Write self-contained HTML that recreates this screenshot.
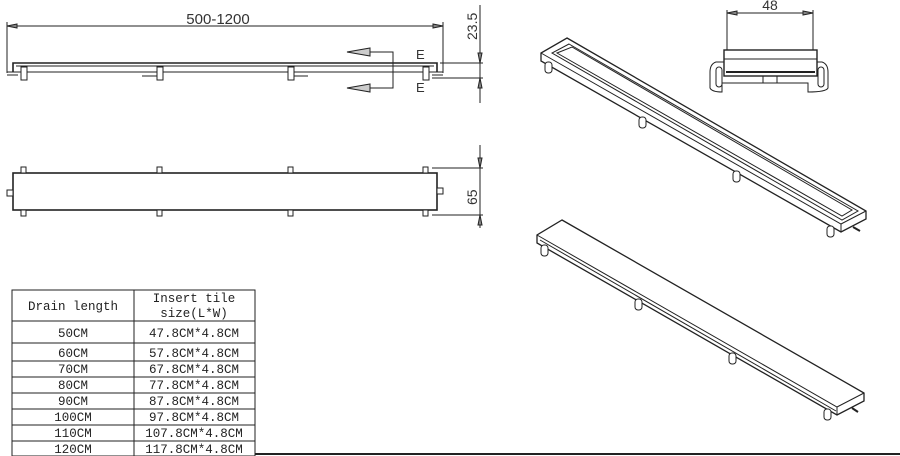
<!DOCTYPE html>
<html><head><meta charset="utf-8"><style>
body{margin:0;background:#fff;width:900px;height:456px;overflow:hidden}
svg{display:block}
text{font-family:"Liberation Sans",sans-serif;fill:#333}
.t{font-family:"Liberation Mono","Noto Serif CJK SC",monospace;font-size:12.5px;fill:#222}
</style></head><body>
<svg width="900" height="456" viewBox="0 0 900 456" fill="none" stroke="#222" stroke-width="1">
<line x1="7" y1="26" x2="443" y2="26"/>
<line x1="7" y1="22" x2="7" y2="73"/><line x1="443" y1="22" x2="443" y2="73"/>
<polygon points="7,26 17,24 17,28" fill="#888"/><polygon points="443,26 433,24 433,28" fill="#888"/>
<text x="218" y="24" font-size="15" text-anchor="middle" stroke="none">500-1200</text>
<path d="M13,72 V63 H437 V72" stroke-width="1.6"/>
<line x1="16" y1="66" x2="434" y2="66"/>
<line x1="7" y1="72" x2="443" y2="72"/><line x1="7" y1="75" x2="18" y2="75"/><line x1="432" y1="75" x2="443" y2="75"/>
<line x1="142" y1="76" x2="160" y2="76"/><line x1="290" y1="76" x2="308" y2="76"/>
<rect x="21" y="67" width="6" height="13" fill="#fff"/><rect x="157" y="67" width="6" height="13" fill="#fff"/>
<rect x="288" y="67" width="6" height="13" fill="#fff"/><rect x="423" y="67" width="6" height="13" fill="#fff"/>
<path d="M370,52 H393 V88 H370"/>
<polygon points="347,52 370,48 370,56" fill="#ccc"/><polygon points="347,88 370,84 370,92" fill="#ccc"/>
<text x="416" y="59" font-size="13" stroke="none">E</text><text x="416" y="92" font-size="13" stroke="none">E</text>
<line x1="480" y1="5" x2="480" y2="103"/>
<line x1="440" y1="63" x2="483" y2="63"/><line x1="432" y1="78" x2="483" y2="78"/>
<polygon points="480,63 478,53 482,53" fill="#888"/><polygon points="480,78 478,88 482,88" fill="#888"/>
<text transform="translate(477,40) rotate(-90)" font-size="14" stroke="none">23.5</text>
<rect x="13" y="173" width="424" height="37" stroke-width="1.6"/>
<g fill="#fff">
<rect x="21" y="167" width="5" height="6"/><rect x="157" y="167" width="5" height="6"/><rect x="288" y="167" width="5" height="6"/><rect x="423" y="167" width="5" height="6"/>
<rect x="21" y="210" width="5" height="6"/><rect x="157" y="210" width="5" height="6"/><rect x="288" y="210" width="5" height="6"/><rect x="423" y="210" width="5" height="6"/>
<rect x="7" y="190" width="6" height="6"/><rect x="437" y="188" width="6" height="6"/>
</g>
<line x1="480" y1="145" x2="480" y2="228"/>
<line x1="432" y1="168" x2="483" y2="168"/><line x1="432" y1="215" x2="483" y2="215"/>
<polygon points="480,168 478,158 482,158" fill="#888"/><polygon points="480,215 478,225 482,225" fill="#888"/>
<text transform="translate(477,205) rotate(-90)" font-size="14" stroke="none">65</text>
<rect x="12" y="290" width="243" height="166"/>
<line x1="134" y1="290" x2="134" y2="456"/>
<line x1="12" y1="321" x2="255" y2="321"/>
<line x1="12" y1="343" x2="255" y2="343"/><line x1="12" y1="361" x2="255" y2="361"/>
<line x1="12" y1="377" x2="255" y2="377"/><line x1="12" y1="393" x2="255" y2="393"/>
<line x1="12" y1="409" x2="255" y2="409"/><line x1="12" y1="425" x2="255" y2="425"/>
<line x1="12" y1="441" x2="255" y2="441"/>
<g stroke="none" text-anchor="middle">
<text class="t" x="73" y="310">Drain length</text>
<text class="t" x="194" y="302">Insert tile</text><text class="t" x="194" y="317">size(L*W)</text>
<text class="t" x="73" y="337">50CM</text><text class="t" x="194" y="337">47.8CM*4.8CM</text>
<text class="t" x="73" y="357">60CM</text><text class="t" x="194" y="357">57.8CM*4.8CM</text>
<text class="t" x="73" y="373">70CM</text><text class="t" x="194" y="373">67.8CM*4.8CM</text>
<text class="t" x="73" y="389">80CM</text><text class="t" x="194" y="389">77.8CM*4.8CM</text>
<text class="t" x="73" y="405">90CM</text><text class="t" x="194" y="405">87.8CM*4.8CM</text>
<text class="t" x="73" y="421">100CM</text><text class="t" x="194" y="421">97.8CM*4.8CM</text>
<text class="t" x="73" y="437">110CM</text><text class="t" x="194" y="437">107.8CM*4.8CM</text>
<text class="t" x="73" y="453">120CM</text><text class="t" x="194" y="453">117.8CM*4.8CM</text>
</g>
<line x1="255" y1="454" x2="900" y2="454" stroke-width="2"/>
<line x1="727" y1="13" x2="813" y2="13"/>
<line x1="727" y1="10" x2="727" y2="50"/><line x1="813" y1="10" x2="813" y2="50"/>
<polygon points="727,13 737,11 737,15" fill="#888"/><polygon points="813,13 803,11 803,15" fill="#888"/>
<text x="770" y="10" font-size="14" text-anchor="middle" stroke="none">48</text>
<rect x="724" y="50" width="93" height="26" stroke-width="1.4"/>
<line x1="724" y1="59" x2="817" y2="59"/><line x1="726" y1="72" x2="815" y2="72" stroke-width="2"/>
<path d="M724,62 H716 Q710,64 710,72 V88 Q712,92 722,92 V83 H808 V92 Q826,92 828,88 V72 Q828,64 822,62 H817"/>
<rect x="716" y="67" width="6" height="20" rx="3"/><rect x="818" y="67" width="6" height="20" rx="3"/>
<line x1="763" y1="76" x2="763" y2="83"/><line x1="777" y1="76" x2="777" y2="83"/>
<polygon points="567,38 866,211 866,219 841,232 541,61 541,53" fill="#fff" stroke-width="1.3"/>
<polyline points="541,53 841,224 866,211"/><line x1="841" y1="224" x2="841" y2="232"/>
<polygon points="569,44 858,211 842,220 552,53" fill="none"/>
<polygon points="572,47 852,210 842,216 557,53" fill="none"/>
<g fill="#fff"><rect x="545" y="62" width="7" height="11" rx="3"/><rect x="639" y="117" width="7" height="11" rx="3"/><rect x="733" y="171" width="7" height="11" rx="3"/><rect x="827" y="226" width="7" height="11" rx="3"/></g>
<line x1="853" y1="227" x2="860" y2="231" stroke-width="2"/>
<polygon points="562,220 864,393 864,401 837,415 537,243 537,235" fill="#fff" stroke-width="1.3"/>
<polyline points="537,235 837,407 864,393"/><line x1="837" y1="407" x2="837" y2="415"/>
<line x1="540" y1="240" x2="836" y2="411"/>
<g fill="#fff"><rect x="541" y="245" width="7" height="11" rx="3"/><rect x="635" y="299" width="7" height="11" rx="3"/><rect x="729" y="353" width="7" height="11" rx="3"/><rect x="824" y="409" width="7" height="11" rx="3"/></g>
<line x1="852" y1="408" x2="858" y2="412" stroke-width="2"/>
</svg>
</body></html>
